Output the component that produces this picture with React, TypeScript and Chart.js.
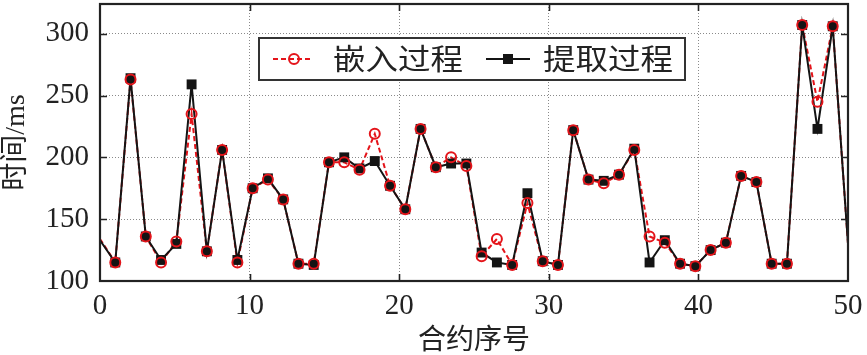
import React, { useEffect, useRef } from "react";
import { Chart, registerables } from "chart.js";

Chart.register(...registerables);

// ---- data ----
const contractNo = [
  0, 1, 2, 3, 4, 5, 6, 7, 8, 9, 10, 11, 12, 13, 14, 15, 16, 17, 18, 19, 20, 21, 22, 23, 24,
  25, 26, 27, 28, 29, 30, 31, 32, 33, 34, 35, 36, 37, 38, 39, 40, 41, 42, 43, 44, 45, 46, 47, 48, 49,
];
const embedTime = [
  134, 115, 263, 136, 115, 132, 235, 124, 206, 115, 175, 182, 166, 114, 114, 196, 196, 190, 219, 177,
  158, 223, 192, 200, 193, 120, 134, 113, 163, 116, 113, 222, 182, 179, 186, 206, 136, 131, 114, 112,
  125, 131, 185, 180, 114, 114, 307, 245, 306, 130,
];
const extractTime = [
  133, 115, 264, 136, 117, 130, 259, 124, 206, 117, 175, 183, 166, 114, 113, 196, 200, 191, 197, 177,
  158, 223, 192, 195, 195, 123, 115, 113, 171, 116, 113, 222, 182, 181, 186, 207, 115, 133, 114, 112,
  125, 131, 185, 180, 114, 114, 307, 223, 306, 130,
];
const xTicks = [0, 10, 20, 30, 40, 50];
const yTicks = [100, 150, 200, 250, 300];
const legendLabels = ["嵌入过程", "提取过程"];
const xTitle = "合约序号";
const yTitle = "时间/ms";

const X_MIN = 0;
const X_MAX = 50;
const Y_MIN = 100;
const Y_MAX = 324;

const SERIF = "'Liberation Serif', 'Noto Sans CJK SC', serif";
const CJK = "'Noto Sans CJK SC', 'Liberation Serif', serif";
const RED = "#e4141a";
const BLACK = "#141414";

const xSpan = (X_MAX - X_MIN) / (contractNo.length - 1);
const toPoints = (vals: number[]) => contractNo.map((n, i) => ({ x: n * xSpan, y: vals[i] }));

const edgeHidden = (r: number) => (ctx: any) =>
  ctx.dataIndex === 0 || ctx.dataIndex === contractNo.length - 1 ? 0 : r;

const framePlugin = {
  id: "frame",
  afterDatasetsDraw(chart: any) {
    const { ctx, chartArea: a, scales } = chart;
    ctx.save();
    ctx.strokeStyle = "#222";
    ctx.lineWidth = 1.6;
    const tl = 7;
    ctx.beginPath();
    xTicks.forEach((v) => {
      if (v === X_MIN || v === X_MAX) return;
      const px = Math.round(scales.x.getPixelForValue(v)) + 0.5;
      ctx.moveTo(px, a.bottom);
      ctx.lineTo(px, a.bottom - tl);
      ctx.moveTo(px, a.top);
      ctx.lineTo(px, a.top + tl);
    });
    yTicks.forEach((v) => {
      if (v === Y_MIN) return;
      const py = Math.round(scales.y.getPixelForValue(v)) + 0.5;
      ctx.moveTo(a.left, py);
      ctx.lineTo(a.left + tl, py);
      ctx.moveTo(a.right, py);
      ctx.lineTo(a.right - tl, py);
    });
    ctx.stroke();
    ctx.lineWidth = 2.2;
    ctx.strokeRect(a.left, a.top, a.right - a.left, a.bottom - a.top);
    ctx.restore();
  },
  afterDraw(chart: any) {
    const { ctx } = chart;
    ctx.save();
    // legend box
    const bx = 259, by = 38, bw = 426, bh = 42;
    ctx.fillStyle = "#fff";
    ctx.fillRect(bx, by, bw, bh);
    ctx.strokeStyle = "#333";
    ctx.lineWidth = 2;
    ctx.strokeRect(bx, by, bw, bh);
    const cy = by + bh / 2;
    // red sample
    ctx.strokeStyle = RED;
    ctx.lineWidth = 2;
    ctx.setLineDash([5, 3]);
    ctx.beginPath();
    ctx.moveTo(273, cy);
    ctx.lineTo(312, cy);
    ctx.stroke();
    ctx.setLineDash([]);
    ctx.beginPath();
    ctx.arc(294, cy, 5, 0, Math.PI * 2);
    ctx.stroke();
    // black sample
    ctx.strokeStyle = BLACK;
    ctx.beginPath();
    ctx.moveTo(486, cy);
    ctx.lineTo(530, cy);
    ctx.stroke();
    ctx.fillStyle = BLACK;
    ctx.fillRect(503, cy - 5, 10, 10);
    // texts
    ctx.fillStyle = "#222";
    ctx.font = `29px ${CJK}`;
    ctx.textBaseline = "middle";
    ctx.textAlign = "left";
    const drawStretched = (t: string, x: number) => {
      ctx.save();
      ctx.translate(x, cy);
      ctx.scale(1.12, 1);
      ctx.fillText(t, 0, 0);
      ctx.restore();
    };
    drawStretched(legendLabels[0], 333);
    drawStretched(legendLabels[1], 543);
    ctx.restore();
  },
};

export default function App() {
  const ref = useRef<HTMLCanvasElement | null>(null);

  useEffect(() => {
    document.body.style.margin = "0";
    if (!ref.current) return;
    const chart = new Chart(ref.current, {
      type: "line",
      data: {
        datasets: [
          {
            label: legendLabels[0],
            data: toPoints(embedTime),
            borderColor: RED,
            borderWidth: 2,
            borderDash: [5, 3],
            pointRadius: 0,
            fill: false,
            tension: 0,
            order: 4,
          },
          {
            label: legendLabels[1],
            data: toPoints(extractTime),
            borderColor: BLACK,
            borderWidth: 2,
            pointRadius: 0,
            fill: false,
            tension: 0,
            order: 3,
          },
          {
            label: legendLabels[1] + " marker",
            data: toPoints(extractTime),
            showLine: false,
            pointStyle: "rect",
            pointRadius: edgeHidden(7),
            backgroundColor: BLACK,
            borderColor: BLACK,
            borderWidth: 0,
            order: 2,
          },
          {
            label: legendLabels[0] + " marker",
            data: toPoints(embedTime),
            showLine: false,
            pointStyle: "circle",
            pointRadius: edgeHidden(5),
            backgroundColor: "rgba(0,0,0,0)",
            borderColor: RED,
            borderWidth: 2,
            order: 1,
          },
        ],
      } as any,
      options: {
        animation: false,
        responsive: false,
        devicePixelRatio: 1,
        layout: { padding: { top: 4, right: 19, left: 0, bottom: 0 } },
        plugins: {
          legend: { display: false },
          tooltip: { enabled: false },
        },
        scales: {
          x: {
            type: "linear",
            min: X_MIN,
            max: X_MAX,
            afterBuildTicks: (s: any) => {
              s.ticks = xTicks.map((v) => ({ value: v }));
            },
            afterFit: (s: any) => {
              s.height = 74;
              s.paddingLeft = 0;
              s.paddingRight = 0;
            },
            ticks: {
              font: { family: SERIF, size: 29 },
              color: "#222",
              padding: 8,
              maxRotation: 0,
            },
            grid: { drawTicks: false, color: "#8a8a8a", lineWidth: 1 },
            border: { display: false, dash: [1, 2] },
            title: {
              display: true,
              text: xTitle,
              font: { family: CJK, size: 28 },
              color: "#222",
              padding: { top: 0, bottom: 0 },
            },
          },
          y: {
            type: "linear",
            min: Y_MIN,
            max: Y_MAX,
            afterBuildTicks: (s: any) => {
              s.ticks = yTicks.map((v) => ({ value: v }));
            },
            afterFit: (s: any) => {
              s.width = 100;
              s.paddingTop = 0;
              s.paddingBottom = 0;
            },
            ticks: {
              font: { family: SERIF, size: 29 },
              color: "#222",
              padding: 11,
            },
            grid: { drawTicks: false, color: "#8a8a8a", lineWidth: 1 },
            border: { display: false, dash: [1, 2] },
            title: {
              display: true,
              text: yTitle,
              font: { family: SERIF, size: 28 },
              color: "#222",
              padding: { top: 0, bottom: 0 },
            },
          },
        },
      } as any,
      plugins: [framePlugin],
    });
    return () => chart.destroy();
  }, []);

  return (
    <div style={{ width: 867, height: 355 }}>
      <canvas ref={ref} width={867} height={355} style={{ display: "block" }} />
    </div>
  );
}
